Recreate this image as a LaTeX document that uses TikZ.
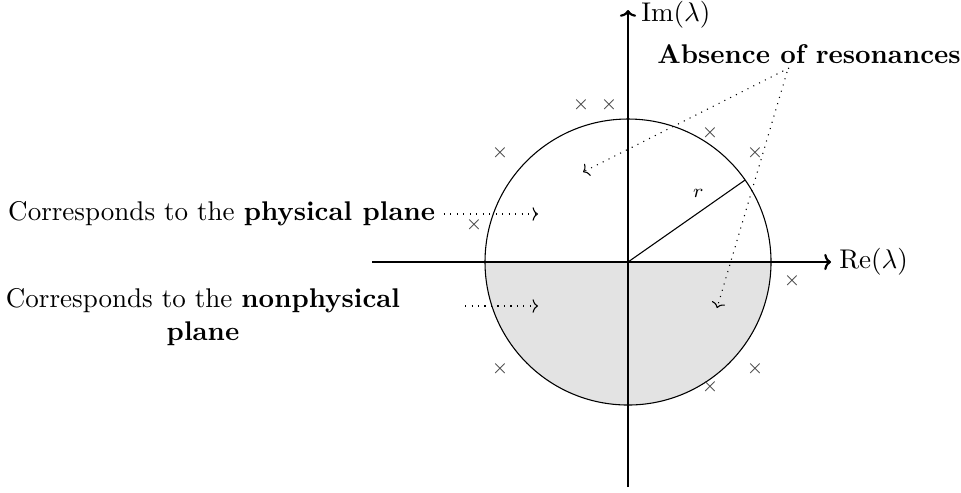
\documentclass[tikz,border=0pt]{standalone}
\usetikzlibrary{arrows.meta,calc}
\tikzset{
  axis/.style={thick,-{To[length=2.5pt,width=6pt]}},
  pointer/.style={dotted,-{To[length=2pt,width=5pt]}},
  res/.style={inner sep=0pt,text=black!75,font=\scriptsize},
}
\begin{document}
\begin{tikzpicture}[x=0.013cm,y=-0.013cm]
\useasboundingbox (0,0) rectangle (961,492);
\coordinate (O) at (628,262);
% shaded lower half
\fill[black!11] (485,262) arc[start angle=180,end angle=0,radius=143] -- cycle;
\draw (O) circle[radius=143];
% axes
\coordinate (xs) at (372,262);
\coordinate (xe) at (831,262);
\coordinate (ys) at (628,487);
\coordinate (ye) at (628,10);
\draw[axis] (xs) -- (xe);
\draw[axis] (ys) -- (ye);
\node[anchor=west,inner sep=1pt] (re) at (836,262) {Re($\lambda$)};
\node[anchor=west,inner sep=1pt] (im) at (638,15) {Im($\lambda$)};
% radius
\coordinate (R) at ($(O)+(-35:143)$);
\draw (O) -- (R) node[pos=0.6,above=2pt,font=\scriptsize] (rl) {$r$};
% resonances
\foreach \n/\p in {a/{581,105},b/{609,105},c/{710,133},d/{755,153},e/{500,153},f/{474,225},g/{792,281},h/{500,369},i/{710,387},j/{755,369}}
  \node[res] (x\n) at (\p) {$\times$};
% labels
\node[font=\bfseries] (abs) at (809,54) {Absence of resonances};
\coordinate (absa) at (789,68);
\coordinate (absb) at (787,72);
\coordinate (t1) at (583,172);
\coordinate (t2) at (717,308);
\draw[pointer] (absa) -- (t1);
\draw[pointer] (absb) -- (t2);
\node[anchor=west,inner sep=1pt] (phys) at (5,214) {Corresponds to the \textbf{physical plane}};
\coordinate (p1) at (538,214);
\draw[pointer] ([xshift=2pt]phys.east) -- (p1);
\node[align=center] (nonphys) at (203,317) {Corresponds to the \textbf{nonphysical}\\\textbf{plane}};
\coordinate (n0) at (465,306);
\coordinate (n1) at (538,306);
\draw[pointer] (n0) -- (n1);
\end{tikzpicture}
\end{document}
